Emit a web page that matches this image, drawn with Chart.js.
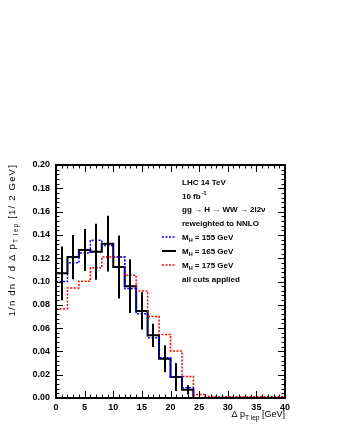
<!DOCTYPE html>
<html>
<head>
<meta charset="utf-8">
<script src="https://cdn.jsdelivr.net/npm/chart.js@4.4.1/dist/chart.umd.min.js"></script>
<style>
  html, body { margin: 0; padding: 0; background: #fff; }
  #wrap { width: 340px; height: 440px; position: relative; }
</style>
</head>
<body>
<div id="wrap"><canvas id="histo" width="340" height="440"></canvas></div>
<script>
// bin edges of delta pT_lep [GeV], 2 GeV bins
var binEdges = [0, 2, 4, 6, 8, 10, 12, 14, 16, 18, 20, 22, 24, 26, 28, 30, 32, 34, 36, 38, 40];
var binCenters = [1, 3, 5, 7, 9, 11, 13, 15, 17, 19, 21, 23, 25, 27, 29, 31, 33, 35, 37, 39];

// 1/n dn/d(delta pT) per bin
var mh155 = [0.100, 0.116, 0.1245, 0.1355, 0.131, 0.121, 0.094, 0.0724, 0.0518, 0.0346, 0.018, 0.0088, 0, 0, 0, 0, 0, 0, 0, 0];
var mh165 = [0.107, 0.121, 0.127, 0.1255, 0.1325, 0.1125, 0.096, 0.0747, 0.0538, 0.0337, 0.018, 0.007, 0, 0, 0, 0, 0, 0, 0, 0];
var mh165err = [0.023, 0.019, 0.018, 0.024, 0.024, 0.027, 0.023, 0.016, 0.010, 0.0115, 0.012, 0.004, 0, 0, 0, 0, 0, 0, 0, 0];
var mh175 = [0.0767, 0.0945, 0.1002, 0.1117, 0.121, 0.121, 0.1054, 0.0919, 0.070, 0.0546, 0.0403, 0.0185, 0.003, 0.0012, 0.001, 0.001, 0.001, 0.001, 0.001, 0.001];

var yTicks = [0, 0.02, 0.04, 0.06, 0.08, 0.10, 0.12, 0.14, 0.16, 0.18, 0.20];
var xTicks = [0, 5, 10, 15, 20, 25, 30, 35, 40];

var infoLines = ['LHC 14 TeV', '10 fb', 'gg \u2192 H \u2192 WW \u2192 2l2\u03bd', 'reweighted to NNLO'];
var legendMasses = ['155', '165', '175'];
var legendColors = ['#0000ff', '#000000', '#ff0000'];

var FONT = '"Liberation Sans", Arial, sans-serif';

// step points: value at lower edge, last value repeated at upper edge
function steps(vals) {
  var pts = [];
  for (var i = 0; i < vals.length; i++) pts.push({x: binEdges[i], y: vals[i]});
  pts.push({x: binEdges[binEdges.length - 1], y: vals[vals.length - 1]});
  return pts;
}

var rootStyle = {
  id: 'rootStyle',
  afterDatasetsDraw: function(chart) {
    var ctx = chart.ctx;
    var xs = chart.scales.x, ys = chart.scales.y;

    // error bars on the 165 GeV histogram
    ctx.save();
    ctx.strokeStyle = '#000';
    ctx.lineWidth = 2;
    for (var i = 0; i < binCenters.length; i++) {
      if (mh165err[i] <= 0) continue;
      var px = Math.round(xs.getPixelForValue(binCenters[i]));
      ctx.beginPath();
      ctx.moveTo(px, ys.getPixelForValue(mh165[i] - mh165err[i]));
      ctx.lineTo(px, ys.getPixelForValue(mh165[i] + mh165err[i]));
      ctx.stroke();
    }
    ctx.restore();
  },
  afterDraw: function(chart) {
    var ctx = chart.ctx;
    var xs = chart.scales.x, ys = chart.scales.y;
    var a = chart.chartArea;
    var v, p, len;

    ctx.save();
    // ticks pointing inwards on all four sides
    ctx.strokeStyle = '#000';
    ctx.lineWidth = 1;
    ctx.beginPath();
    for (v = 0; v <= 40; v++) {
      p = Math.round(xs.getPixelForValue(v)) + 0.5;
      len = (v % 5 === 0) ? 7 : 3.5;
      ctx.moveTo(p, a.bottom); ctx.lineTo(p, a.bottom - len);
      ctx.moveTo(p, a.top); ctx.lineTo(p, a.top + len);
    }
    for (v = 0; v <= 50; v++) {
      p = Math.round(ys.getPixelForValue(v * 0.004)) + 0.5;
      len = (v % 5 === 0) ? 7 : 3.5;
      ctx.moveTo(a.left, p); ctx.lineTo(a.left + len, p);
      ctx.moveTo(a.right, p); ctx.lineTo(a.right - len, p);
    }
    ctx.stroke();

    // frame
    ctx.lineWidth = 2;
    ctx.strokeRect(a.left, a.top, a.right - a.left, a.bottom - a.top);

    // info text block
    ctx.fillStyle = '#000';
    ctx.textBaseline = 'alphabetic';
    ctx.textAlign = 'left';
    var tx = 182;
    ctx.font = 'bold 8px ' + FONT;
    ctx.fillText(infoLines[0], tx, 185);
    ctx.fillText(infoLines[1], tx, 199);
    var w = ctx.measureText(infoLines[1]).width;
    ctx.font = 'bold 5.5px ' + FONT;
    ctx.fillText('-1', tx + w + 1, 195);
    ctx.font = 'bold 8px ' + FONT;
    ctx.fillText(infoLines[2], tx, 212);
    ctx.fillText(infoLines[3], tx, 226);

    // legend entries
    for (var k = 0; k < legendMasses.length; k++) {
      var yy = 240 + k * 14;
      ctx.save();
      ctx.strokeStyle = legendColors[k];
      if (k === 1) { ctx.lineWidth = 2; ctx.setLineDash([]); }
      else { ctx.lineWidth = 1.5; ctx.setLineDash([2, 1.5]); }
      ctx.beginPath();
      ctx.moveTo(162, yy - 3); ctx.lineTo(176, yy - 3);
      ctx.stroke();
      ctx.restore();
      ctx.font = 'bold 8px ' + FONT;
      ctx.fillText('M', tx, yy);
      var mw = ctx.measureText('M').width;
      ctx.font = 'bold 5.5px ' + FONT;
      ctx.fillText('H', tx + mw, yy + 2);
      var hw = ctx.measureText('H').width;
      ctx.font = 'bold 8px ' + FONT;
      ctx.fillText(' = ' + legendMasses[k] + ' GeV', tx + mw + hw, yy);
    }
    ctx.fillText('all cuts applied', tx, 282);

    // x axis title, right aligned to the frame
    var parts = [['\u0394 p', 9, 0], ['T lep', 6.5, 2.5], [' [GeV]', 9, 0]];
    drawPieces(ctx, parts, a.right, 417);

    // y axis title, rotated, right aligned to the top of the frame
    ctx.translate(15, a.top - 1);
    ctx.rotate(-Math.PI / 2);
    ctx.letterSpacing = '1.2px';
    var yparts = [['1/n dn / d \u0394 p', 9.5, 0], ['T lep', 6.5, 2.5], [' [1/ 2 GeV]', 9.5, 0]];
    drawPieces(ctx, yparts, 0, 0);
    ctx.restore();
  }
};

function drawPieces(ctx, parts, endX, baseY) {
  var total = 0, i;
  for (i = 0; i < parts.length; i++) {
    ctx.font = parts[i][1] + 'px ' + FONT;
    total += ctx.measureText(parts[i][0]).width;
  }
  var x = endX - total;
  for (i = 0; i < parts.length; i++) {
    ctx.font = parts[i][1] + 'px ' + FONT;
    ctx.fillText(parts[i][0], x, baseY + parts[i][2]);
    x += ctx.measureText(parts[i][0]).width;
  }
}

var chart = new Chart(document.getElementById('histo'), {
  type: 'line',
  data: {
    datasets: [
      {
        label: 'M_H = 155 GeV',
        data: steps(mh155),
        stepped: 'before',
        borderColor: '#0000ff',
        borderWidth: 1.5,
        borderDash: [2, 1.5],
        pointRadius: 0,
        fill: false
      },
      {
        label: 'M_H = 175 GeV',
        data: steps(mh175),
        stepped: 'before',
        borderColor: '#ff0000',
        borderWidth: 1.5,
        borderDash: [2, 1.5],
        pointRadius: 0,
        fill: false
      },
      {
        label: 'M_H = 165 GeV',
        data: steps(mh165),
        stepped: 'before',
        borderColor: '#000000',
        borderWidth: 2,
        pointRadius: 0,
        fill: false
      }
    ]
  },
  options: {
    responsive: false,
    animation: false,
    events: [],
    layout: { padding: { top: 165, right: 55, left: 0, bottom: 0 } },
    plugins: { legend: { display: false }, tooltip: { enabled: false } },
    scales: {
      x: {
        type: 'linear',
        min: 0,
        max: 40,
        afterBuildTicks: function(s) { s.ticks = xTicks.map(function(v) { return {value: v}; }); },
        afterFit: function(s) { s.height = 42; },
        grid: { display: false, drawTicks: false },
        border: { display: false },
        ticks: {
          padding: 4,
          maxRotation: 0,
          autoSkip: false,
          color: '#000',
          font: { family: FONT, size: 9, weight: 'bold' }
        }
      },
      y: {
        min: 0,
        max: 0.2,
        afterBuildTicks: function(s) { s.ticks = yTicks.map(function(v) { return {value: v}; }); },
        afterFit: function(s) { s.width = 56; },
        grid: { display: false, drawTicks: false },
        border: { display: false },
        ticks: {
          padding: 6,
          autoSkip: false,
          color: '#000',
          font: { family: FONT, size: 9, weight: 'bold' },
          callback: function(v) { return v.toFixed(2); }
        }
      }
    }
  },
  plugins: [rootStyle]
});
</script>
</body>
</html>
